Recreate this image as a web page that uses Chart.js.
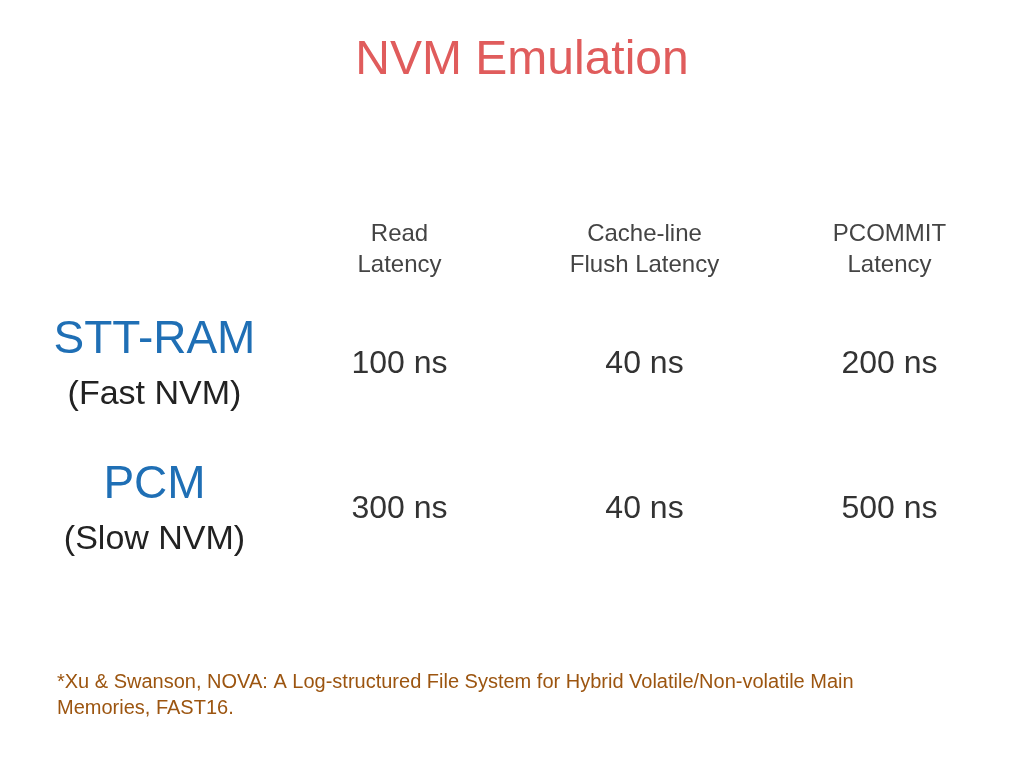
<!DOCTYPE html>
<html><head><meta charset="utf-8">
<script src="https://cdn.jsdelivr.net/npm/chart.js@4"></script>
<style>html,body{margin:0;background:#fff}#w{width:1024px;height:768px}</style>
</head><body><div id="w"><canvas id="c"></canvas></div>
<script>
const columns = ['', 'Read Latency', 'Cache-line Flush Latency', 'PCOMMIT Latency'];
const columnLines = [[''], ['Read', 'Latency'], ['Cache-line', 'Flush Latency'], ['PCOMMIT', 'Latency']];
const rows = ['STT-RAM', 'PCM'];
const rowSubs = ['(Fast NVM)', '(Slow NVM)'];
const readLatency = [100, 300];
const flushLatency = [40, 40];
const pcommitLatency = [200, 500];
const unit = ' ns';
const footnote = ['*Xu & Swanson, NOVA: A Log-structured File System for Hybrid Volatile/Non-volatile Main', 'Memories, FAST16.'];
const FONT = 'Arial, "Liberation Sans", sans-serif';

function mk(col, vals) {
  return { label: col, data: rows.map((r, i) => ({ x: col, y: r, v: vals[i] })), pointRadius: 0, showLine: false };
}
const textPlugin = {
  id: 'txt',
  afterDatasetsDraw(chart) {
    const ctx = chart.ctx;
    ctx.save();
    ctx.textAlign = 'center'; ctx.textBaseline = 'middle';
    ctx.font = '32px ' + FONT; ctx.fillStyle = '#333';
    chart.data.datasets.forEach((ds, di) => {
      chart.getDatasetMeta(di).data.forEach((el, i) => {
        ctx.fillText(ds.data[i].v + unit, el.x, el.y);
      });
    });
    const xs = chart.scales.x, ys = chart.scales.y;
    const hx = xs.getPixelForValue(0);
    rows.forEach((r, i) => {
      const y = ys.getPixelForValue(i);
      ctx.fillStyle = '#1f6fb5'; ctx.font = '46px ' + FONT;
      ctx.fillText(r, hx, y - 24);
      ctx.fillStyle = '#222'; ctx.font = '34px ' + FONT;
      ctx.fillText(rowSubs[i], hx, y + 30);
    });
    ctx.textAlign = 'left'; ctx.fillStyle = '#9c5510'; ctx.font = '20px ' + FONT;
    footnote.forEach((t, i) => ctx.fillText(t, 57, 682 + i * 26));
    ctx.restore();
  }
};
new Chart(document.getElementById('c'), {
  type: 'scatter',
  data: { datasets: [mk(columns[1], readLatency), mk(columns[2], flushLatency), mk(columns[3], pcommitLatency)] },
  options: {
    responsive: true, maintainAspectRatio: false, animation: false,
    layout: { padding: { left: 32, right: 12, bottom: 186 } },
    plugins: {
      legend: { display: false }, tooltip: { enabled: false },
      title: { display: true, text: 'NVM Emulation', color: '#e05c5c', font: { family: FONT, size: 48, weight: 'normal' }, padding: { top: 32, bottom: 126 } }
    },
    scales: {
      x: { type: 'category', labels: columns, offset: true, position: 'top',
        grid: { display: false }, border: { display: false },
        ticks: { color: '#444', font: { family: FONT, size: 24, lineHeight: 1.3 }, maxRotation: 0, autoSkip: false,
          callback: (v, i) => columnLines[i] } },
      y: { type: 'category', labels: rows, offset: true, display: false }
    }
  },
  plugins: [textPlugin]
});
</script></body></html>
